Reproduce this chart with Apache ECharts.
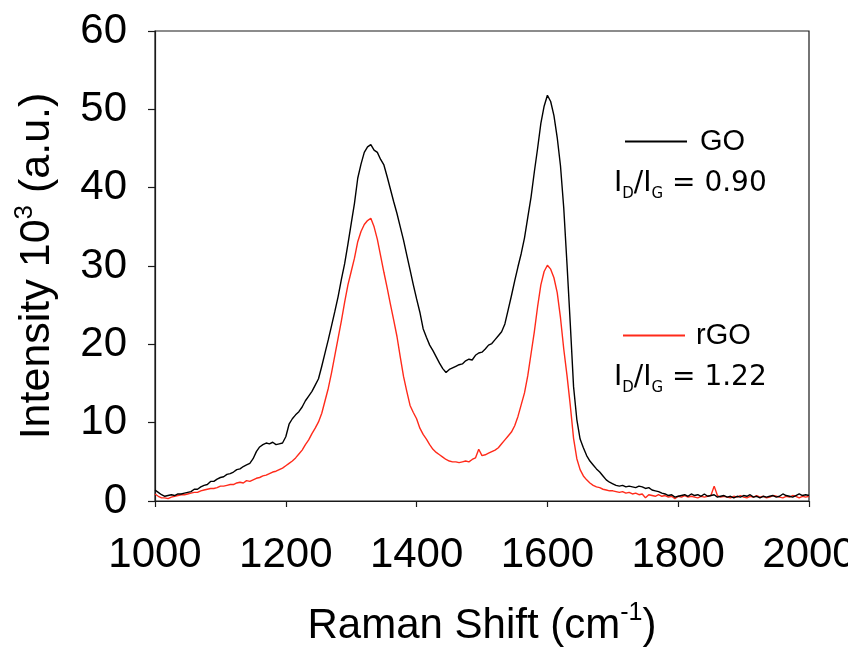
<!DOCTYPE html>
<html><head><meta charset="utf-8">
<script src="https://cdn.jsdelivr.net/npm/echarts@6/dist/echarts.min.js"></script>
<style>html,body{margin:0;padding:0;background:#fff}#c{width:848px;height:652px}</style>
</head><body><div id="c"></div>
<script>
// Raman shift grid (cm-1)
const ramanShift = [
1000,1005,1010,1015,1020,1025,1030,1035,1040,1045,1050,1055,1060,1065,1070,1075,1080,1085,1090,1095,
1100,1105,1110,1115,1120,1125,1130,1135,1140,1145,1150,1155,1160,1165,1170,1175,1180,1185,1190,1195,
1200,1205,1210,1215,1220,1225,1230,1235,1240,1245,1250,1255,1260,1265,1270,1275,1280,1285,1290,1295,
1300,1305,1310,1315,1320,1325,1330,1335,1340,1345,1350,1355,1360,1365,1370,1375,1380,1385,1390,1395,
1400,1405,1410,1415,1420,1425,1430,1435,1440,1445,1450,1455,1460,1465,1470,1475,1480,1485,1490,1495,
1500,1505,1510,1515,1520,1525,1530,1535,1540,1545,1550,1555,1560,1565,1570,1575,1580,1585,1590,1595,
1600,1605,1610,1615,1620,1625,1630,1635,1640,1645,1650,1655,1660,1665,1670,1675,1680,1685,1690,1695,
1700,1705,1710,1715,1720,1725,1730,1735,1740,1745,1750,1755,1760,1765,1770,1775,1780,1785,1790,1795,
1800,1805,1810,1815,1820,1825,1830,1835,1840,1845,1850,1855,1860,1865,1870,1875,1880,1885,1890,1895,
1900,1905,1910,1915,1920,1925,1930,1935,1940,1945,1950,1955,1960,1965,1970,1975,1980,1985,1990,1995,
2000];

// GO intensity (x 10^3 a.u.)
const goIntensity = [
1.4,1.1,0.8,0.6,0.7,0.8,0.7,0.9,0.9,1.0,1.1,1.2,1.5,1.5,1.8,2.0,2.1,2.5,2.5,2.8,
3.0,3.1,3.4,3.5,3.7,4.0,4.1,4.4,4.6,4.8,5.4,6.3,6.9,7.2,7.4,7.3,7.5,7.2,7.3,7.4,
8.2,9.8,10.5,11.0,11.4,12.0,12.8,13.4,14.0,14.8,15.6,17.2,18.9,20.6,22.4,24.2,26.1,28.3,30.3,32.8,
35.4,38.0,41.2,43.0,44.5,45.2,45.5,44.8,44.5,43.6,42.9,41.4,39.8,38.2,36.7,35.0,33.3,31.4,29.5,27.6,
25.8,24.1,22.0,20.9,19.9,19.2,18.4,17.6,16.9,16.4,16.8,17.0,17.2,17.4,17.5,17.9,18.1,18.0,18.6,18.9,
19.0,19.4,19.9,20.1,20.6,21.1,21.6,22.6,24.4,26.2,28.1,29.9,31.6,33.6,36.2,38.8,42.0,45.0,48.2,50.4,
51.8,51.0,49.2,46.4,42.8,37.4,30.2,22.6,14.6,10.4,7.9,6.8,5.8,5.1,4.6,4.1,3.7,3.2,2.7,2.4,
2.2,2.0,1.9,2.0,1.8,1.9,1.8,1.7,1.9,1.8,1.6,1.7,1.4,1.3,1.2,1.0,0.9,0.7,0.8,0.5,
0.6,0.7,0.8,0.6,0.9,0.7,0.8,0.6,0.9,0.6,0.7,0.8,0.5,0.6,0.7,0.5,0.6,0.4,0.6,0.5,
0.7,0.6,0.8,0.5,0.6,0.4,0.6,0.5,0.6,0.7,0.5,0.6,0.9,0.7,0.6,0.5,0.7,0.9,0.7,0.8,
0.7];

// rGO intensity (x 10^3 a.u.)
const rgoIntensity = [
0.9,0.6,0.4,0.4,0.3,0.5,0.6,0.7,0.8,0.8,0.9,1.0,1.1,1.1,1.3,1.4,1.5,1.6,1.6,1.7,
1.9,1.9,2.0,2.1,2.1,2.3,2.4,2.3,2.6,2.5,2.7,2.9,3.0,3.2,3.3,3.5,3.7,3.8,4.0,4.2,
4.5,4.8,5.1,5.5,6.0,6.5,7.2,7.8,8.6,9.3,10.1,11.2,12.8,14.4,16.4,18.6,20.8,23.0,25.4,27.6,
29.3,31.0,33.1,34.4,35.3,35.8,36.1,35.0,33.4,31.3,29.2,27.2,25.1,23.1,21.0,18.4,15.9,14.0,12.2,11.3,
10.5,9.3,8.5,7.9,7.2,6.6,6.2,5.9,5.6,5.3,5.1,5.0,5.0,4.9,5.0,5.1,5.0,5.3,5.5,6.6,
5.8,5.9,6.1,6.3,6.5,6.8,7.3,7.8,8.3,8.8,9.6,10.8,12.3,13.8,16.0,18.8,21.6,24.8,27.6,29.3,
30.1,29.6,28.5,26.6,23.4,19.4,16.0,12.2,8.0,5.4,4.0,3.2,2.7,2.3,2.0,1.8,1.7,1.5,1.4,1.3,
1.3,1.2,1.1,1.2,1.0,1.1,0.9,1.0,0.8,0.9,0.4,0.8,0.7,0.6,0.8,0.6,0.7,0.5,0.6,0.3,
0.6,0.5,0.7,0.5,0.6,0.5,0.4,0.6,0.5,0.6,0.7,1.9,0.7,0.5,0.6,0.5,0.4,0.6,0.5,0.7,
0.5,0.4,0.6,0.5,0.7,0.5,0.6,0.4,0.5,0.7,0.6,0.5,0.4,0.6,0.5,0.7,0.6,0.4,0.6,0.5,
0.6];

const seriesNames = ['GO', 'rGO'];
const ratioLabels = ['0.90', '1.22'];
const xAxisRange = [1000, 2000, 200];
const yAxisRange = [0, 60, 10];

const FONT = 'Liberation Sans, Arial, sans-serif';
const RFONT = 'DejaVu Sans, sans-serif';
const pair = (xs, ys) => xs.map((x, i) => [x, ys[i]]);
const ratioRich = {
  i: {fontSize: 28, fontFamily: RFONT, color: '#000', lineHeight: 36, verticalAlign: 'middle'},
  sub: {fontSize: 15, fontFamily: RFONT, color: '#000', lineHeight: 36, verticalAlign: 'bottom'}
};
const ratioText = v => '{i|I}{sub|D}{i|/I}{sub|G}{i| = ' + v + '}';

const chart = echarts.init(document.getElementById('c'), null, {renderer: 'canvas'});
chart.setOption({
  animation: false,
  backgroundColor: '#fff',
  grid: {left: 155, right: 39, top: 31, bottom: 151, containLabel: false, outerBoundsMode: 'none',
         show: true, borderColor: '#1a1a1a', borderWidth: 1.2, backgroundColor: 'transparent'},
  xAxis: {
    type: 'value', min: xAxisRange[0], max: xAxisRange[1], interval: xAxisRange[2],
    name: '{a|Raman Shift (cm}{s|-1}{a|)}', nameLocation: 'middle', nameGap: 100,
    nameTextStyle: {rich: {
      a: {fontSize: 42, fontFamily: FONT, color: '#000', lineHeight: 50, verticalAlign: 'middle'},
      s: {fontSize: 25, fontFamily: FONT, color: '#000', lineHeight: 50, verticalAlign: 'top'}
    }},
    axisLine: {show: true, onZero: false, lineStyle: {color: '#1a1a1a', width: 1.2}},
    axisTick: {show: true, inside: false, length: 6, lineStyle: {color: '#1a1a1a', width: 1.2}},
    axisLabel: {fontSize: 42, fontFamily: FONT, color: '#000', margin: 33, hideOverlap: false,
                showMinLabel: true, showMaxLabel: true, formatter: v => String(v)},
    splitLine: {show: false}
  },
  yAxis: {
    type: 'value', min: yAxisRange[0], max: yAxisRange[1], interval: yAxisRange[2],
    name: '{a|Intensity 10}{s|3}{a| (a.u.)}', nameLocation: 'middle', nameGap: 93, nameRotate: 90,
    nameTextStyle: {rich: {
      a: {fontSize: 43, fontFamily: FONT, color: '#000', lineHeight: 50, verticalAlign: 'middle'},
      s: {fontSize: 26, fontFamily: FONT, color: '#000', lineHeight: 50, verticalAlign: 'top'}
    }},
    axisLine: {show: true, onZero: false, lineStyle: {color: '#1a1a1a', width: 1.2}},
    axisTick: {show: true, inside: false, length: 7, lineStyle: {color: '#1a1a1a', width: 1.2}},
    axisLabel: {fontSize: 42, fontFamily: FONT, color: '#000', margin: 28, formatter: v => String(v)},
    splitLine: {show: false}
  },
  legend: [
    {data: [seriesNames[0]], left: 620, top: 122, icon: 'rect', itemWidth: 62, itemHeight: 2, padding: 5,
     textStyle: {fontSize: 29, fontFamily: FONT, color: '#000', padding: [0, 0, 0, 8]}},
    {data: [seriesNames[1]], left: 618, top: 316, icon: 'rect', itemWidth: 62, itemHeight: 2, padding: 5,
     textStyle: {fontSize: 29, fontFamily: FONT, color: '#000', padding: [0, 0, 0, 6]}}
  ],
  graphic: [
    {type: 'text', left: 614, top: 170, style: {text: ratioText(ratioLabels[0]), rich: ratioRich}},
    {type: 'text', left: 614, top: 364, style: {text: ratioText(ratioLabels[1]), rich: ratioRich}}
  ],
  series: [
    {name: seriesNames[1], type: 'line', data: pair(ramanShift, rgoIntensity), symbol: 'none',
     lineStyle: {color: '#ff2a1a', width: 1.4}, itemStyle: {color: '#ff2a1a'}},
    {name: seriesNames[0], type: 'line', data: pair(ramanShift, goIntensity), symbol: 'none',
     lineStyle: {color: '#000', width: 1.4}, itemStyle: {color: '#000'}}
  ]
});
</script>
</body></html>
